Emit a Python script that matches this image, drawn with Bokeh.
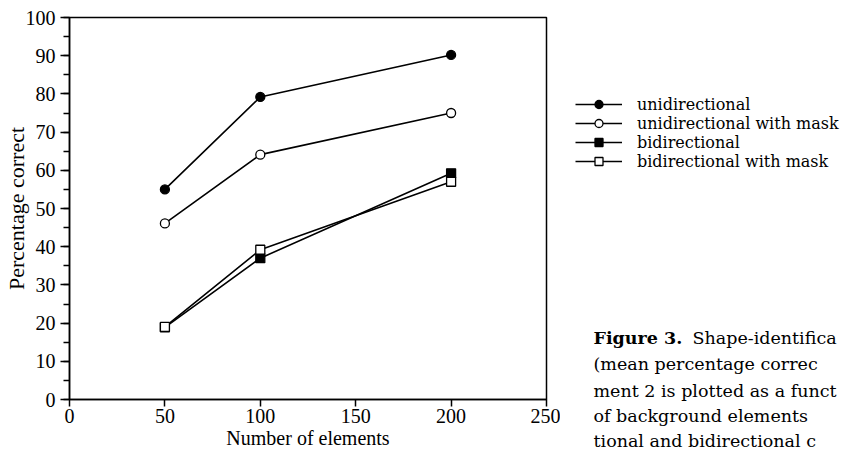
from bokeh.plotting import figure
from bokeh.layouts import row
from bokeh.models import Range1d, SingleIntervalTicker, Legend, LegendItem, Label
from bokeh.embed import file_html
from bokeh.resources import INLINE

# ---- data ----
elements = [50, 100, 200]
unidirectional = [55.0, 79.2, 90.2]
unidirectional_mask = [46.1, 64.1, 75.0]
bidirectional = [18.9, 37.0, 59.2]
bidirectional_mask = [19.0, 39.2, 57.0]
series_labels = ["unidirectional", "unidirectional with mask",
                 "bidirectional", "bidirectional with mask"]
x_label = "Number of elements"
y_label = "Percentage correct"
caption_bold = "Figure 3."
caption_lines = ["Shape-identifica",
                 "(mean percentage correc",
                 "ment 2 is plotted as a funct",
                 "of background elements",
                 "tional and bidirectional c"]

FONT = "Liberation Serif"
TFONT = "DejaVu Serif"

# ---------------- main chart ----------------
p = figure(width=560, height=459, output_backend="svg", toolbar_location=None,
           x_range=Range1d(0, 250), y_range=Range1d(0, 100),
           min_border_left=69, min_border_right=14,
           min_border_top=17, min_border_bottom=60)
p.background_fill_color = "white"
p.border_fill_color = "white"
p.outline_line_color = "black"
p.outline_line_width = 1.5
p.xgrid.visible = False
p.ygrid.visible = False

p.yaxis.ticker = SingleIntervalTicker(interval=10, num_minor_ticks=2)
p.xaxis.ticker = SingleIntervalTicker(interval=50, num_minor_ticks=0)
for ax in (p.xaxis, p.yaxis):
    ax.axis_line_color = "black"
    ax.axis_line_width = 1.5
    ax.major_tick_line_color = "black"
    ax.major_tick_line_width = 1.5
    ax.minor_tick_line_color = "black"
    ax.minor_tick_line_width = 1.5
    ax.major_tick_in = 0
    ax.minor_tick_in = 0
    ax.major_label_text_font = FONT
    ax.major_label_text_font_size = "20px"
    ax.major_label_text_color = "black"
    ax.axis_label_text_font = FONT
    ax.axis_label_text_font_style = "normal"
    ax.axis_label_text_color = "black"
p.yaxis.major_tick_out = 9
p.yaxis.minor_tick_out = 6
p.yaxis.major_label_standoff = 5
p.yaxis.axis_label = y_label
p.yaxis.axis_label_text_font_size = "22px"
p.yaxis.axis_label_standoff = -6
p.xaxis.major_tick_out = 7
p.xaxis.minor_tick_out = 0
p.xaxis.major_label_standoff = 2
p.xaxis.axis_label = x_label
p.xaxis.axis_label_text_font_size = "20px"
p.xaxis.axis_label_standoff = 1

styles = [
    (unidirectional, "circle", "black"),
    (unidirectional_mask, "circle", "white"),
    (bidirectional, "square", "black"),
    (bidirectional_mask, "square", "white"),
]
for vals, marker, fill in styles:
    p.line(elements, vals, line_color="black", line_width=1.6)
    p.scatter(elements, vals, marker=marker, size=9, fill_color=fill,
              line_color="black", line_width=1.3)

# ---------------- side panel: legend + caption ----------------
q = figure(width=294, height=459, output_backend="svg", toolbar_location=None,
           x_range=Range1d(0, 294), y_range=Range1d(459, 0),
           min_border=0, x_axis_type=None, y_axis_type=None)
for fig in (p, q):
    try:
        fig.frame_align = False
    except AttributeError:
        pass
q.outline_line_color = None
q.background_fill_color = "white"
q.border_fill_color = "white"
q.xgrid.visible = False
q.ygrid.visible = False
# series re-drawn on a range that lies outside this panel's view: only their
# styles are used, by the legend rows
q.extra_x_ranges = {"off": Range1d(1000, 2000)}

row_centers = [104, 123, 142, 161]
ITEM_H = 20
for (vals, marker, fill), lab, rc in zip(styles, series_labels, row_centers):
    rl = q.line(elements, vals, line_color="black", line_width=1.6, x_range_name="off")
    rs = q.scatter(elements, vals, marker=marker, size=8, fill_color=fill,
                   line_color="black", line_width=1.3, x_range_name="off")
    lg = Legend(items=[LegendItem(label=lab, renderers=[rl, rs])],
                location=(15, 459 - rc - ITEM_H // 2), orientation="vertical",
                padding=0, margin=0, spacing=0, glyph_width=47,
                glyph_height=ITEM_H, label_height=ITEM_H, label_standoff=15,
                border_line_alpha=0, background_fill_alpha=0,
                label_text_font=TFONT, label_text_font_size="16px",
                label_text_color="black")
    q.add_layout(lg)

q.add_layout(Label(x=33, y=337, text=caption_bold, text_font=TFONT,
                   text_font_size="17.5px", text_font_style="bold",
                   text_baseline="alphabetic", text_color="black"))
cap_y = [337, 363, 390, 415, 440]
cap_x = [132, 33, 33, 33, 33]
for cx, cy, txt in zip(cap_x, cap_y, caption_lines):
    q.add_layout(Label(x=cx, y=cy, text=txt, text_font=TFONT,
                       text_font_size="17.5px", text_baseline="alphabetic",
                       text_color="black"))

layout = row(p, q, spacing=0)
open("out.html", "w").write(file_html(layout, INLINE))
